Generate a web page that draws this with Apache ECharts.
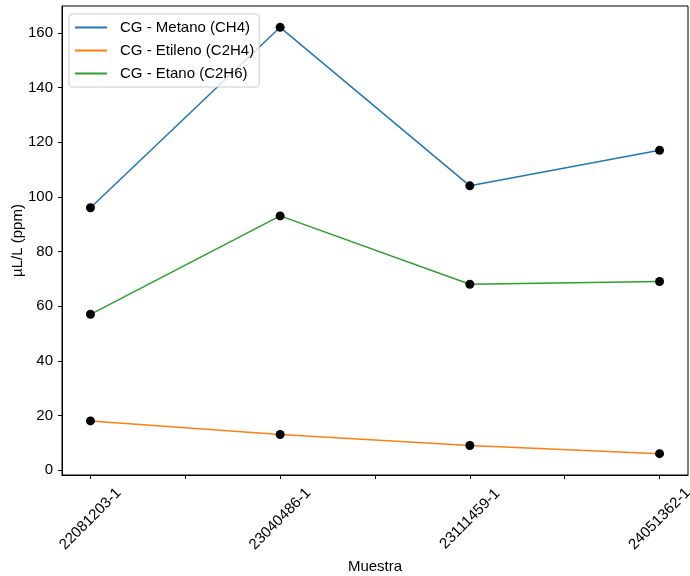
<!DOCTYPE html>
<html>
<head>
<meta charset="utf-8">
<script src="https://cdn.jsdelivr.net/npm/echarts@6/dist/echarts.min.js"></script>
<style>html,body{margin:0;padding:0;background:#fff}#c{width:690px;height:576px}</style>
</head>
<body>
<div id="c"></div>
<script>
const categories = ['22081203-1', '23040486-1', '23111459-1', '24051362-1'];
const metano = [96, 162, 104, 117];
const etileno = [18, 13, 9, 6];
const etano = [57, 93, 68, 69];
const seriesNames = ['CG - Metano (CH4)', 'CG - Etileno (C2H4)', 'CG - Etano (C2H6)'];
const yTicks = [0, 20, 40, 60, 80, 100, 120, 140, 160];

const FONT = 'Liberation Sans';
const FS = 15;
const toXY = arr => arr.map((v, i) => [i, v]);
const colors = ['#1f77b4', '#ff7f0e', '#2ca02c'];
const lineData = [metano, etileno, etano];

const series = [];
lineData.forEach((d, k) => {
  series.push({
    name: seriesNames[k], type: 'line', data: toXY(d), symbol: 'none',
    lineStyle: { color: colors[k], width: 1.5 }, itemStyle: { color: colors[k] },
    z: 2, animation: false
  });
});
lineData.forEach((d, k) => {
  series.push({
    name: 'pts' + k, type: 'scatter', data: toXY(d), symbol: 'circle', symbolSize: 9,
    itemStyle: { color: '#000', opacity: 1 }, z: 3, animation: false
  });
});

const chart = echarts.init(document.getElementById('c'), null, { renderer: 'canvas' });
chart.setOption({
  animation: false,
  textStyle: { fontFamily: FONT },
  grid: { left: 62, right: 2, top: 6, bottom: 101, show: true, borderColor: '#000', borderWidth: 1,
          containLabel: false, outerBoundsMode: 'none' },
  legend: {
    data: seriesNames, left: 69, top: 14, orient: 'vertical',
    icon: 'rect', itemWidth: 32, itemHeight: 2, itemGap: 6,
    padding: [5, 5, 5, 6], borderColor: '#cccccc', borderWidth: 1, borderRadius: 3,
    backgroundColor: 'rgba(255,255,255,0.8)',
    textStyle: { fontFamily: FONT, fontSize: FS, color: '#000', lineHeight: 17, padding: [0, 0, 0, 8] }
  },
  xAxis: {
    type: 'value', min: -0.15, max: 3.15,
    name: 'Muestra', nameLocation: 'middle', nameGap: 84, nameMoveOverlap: false,
    nameTextStyle: { fontFamily: FONT, fontSize: FS, color: '#000' },
    axisLine: { show: true, onZero: false, lineStyle: { color: '#000', width: 1 } },
    axisTick: { show: true, length: 4, lineStyle: { color: '#000' }, customValues: [0, 0.5, 1, 1.5, 2, 2.5, 3] },
    axisLabel: {
      customValues: [0, 1, 2, 3], rotate: 45, margin: 44, align: 'center', verticalAlign: 'middle',
      fontFamily: FONT, fontSize: FS, color: '#000',
      formatter: v => categories[Math.round(v)] || ''
    },
    splitLine: { show: false }
  },
  yAxis: {
    type: 'value', min: -1.8, max: 169.8,
    name: 'µL/L (ppm)', nameLocation: 'middle', nameGap: 37, nameMoveOverlap: false,
    nameTextStyle: { fontFamily: FONT, fontSize: FS, color: '#000' },
    axisLine: { show: true, onZero: false, lineStyle: { color: '#000', width: 1 } },
    axisTick: { show: true, length: 4, lineStyle: { color: '#000' }, customValues: yTicks },
    axisLabel: { customValues: yTicks, fontFamily: FONT, fontSize: FS, color: '#000', margin: 9 },
    splitLine: { show: false }
  },
  series: series
});
</script>
</body>
</html>
